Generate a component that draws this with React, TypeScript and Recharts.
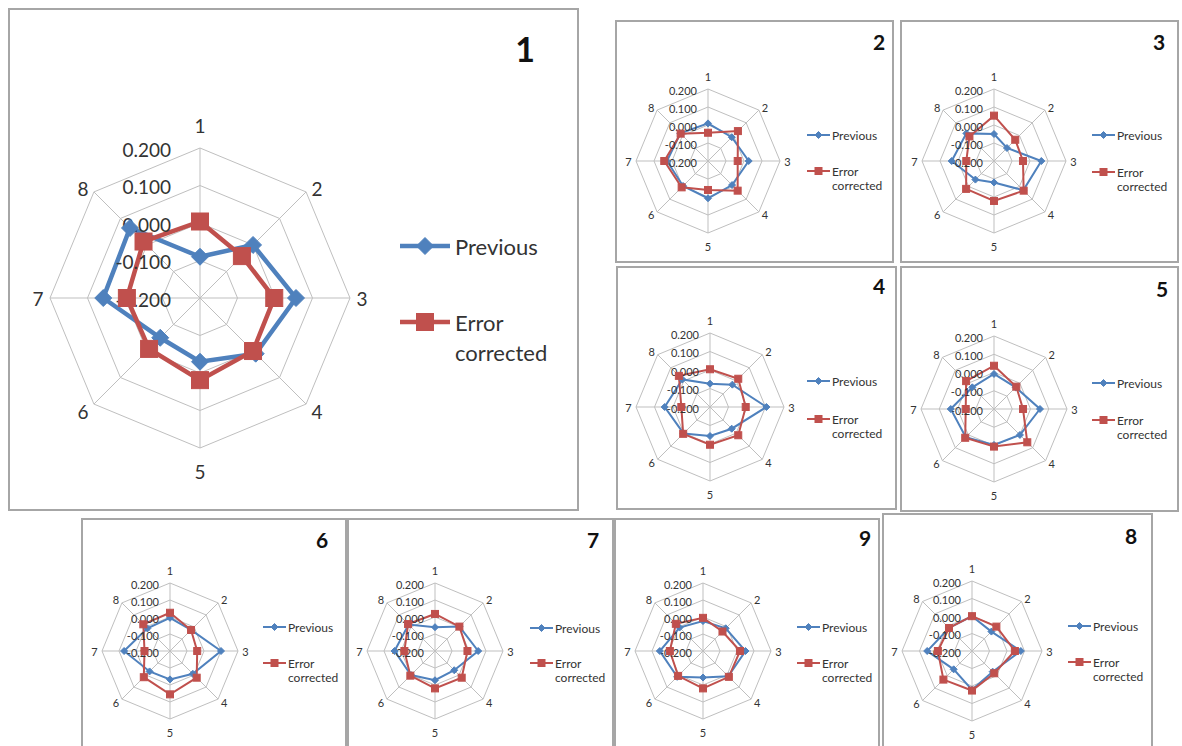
import { Legend, PolarAngleAxis, PolarGrid, PolarRadiusAxis, Radar, RadarChart } from "recharts";

const AXES = ["1", "2", "3", "4", "5", "6", "7", "8"];
const RING_DOMAIN = [-0.2, 0.2];
const RING_TICKS = [-0.2, -0.1, 0, 0.1, 0.2];

const PREV_1 = [-0.09, 0.0, 0.056, 0.01, -0.03, -0.05, 0.058, 0.064];
const CORR_1 = [0.004, -0.042, -0.002, 0.0, 0.019, -0.008, -0.005, 0.013];
const PREV_2 = [0.009, -0.013, 0.026, -0.011, 0.007, -0.004, 0.028, 0.017];
const CORR_2 = [-0.043, 0.035, -0.035, 0.033, -0.039, 0.007, 0.043, 0.015];
const PREV_3 = [-0.05, -0.098, 0.063, 0.03, -0.081, -0.054, 0.035, 0.017];
const CORR_3 = [0.052, -0.033, -0.039, 0.033, 0.022, 0.019, -0.046, -0.007];
const PREV_4 = [-0.074, -0.029, 0.105, -0.034, -0.043, 0.002, 0.045, 0.011];
const CORR_4 = [0.004, 0.016, -0.007, 0.016, 0.004, 0.005, -0.045, 0.038];
const PREV_5 = [-0.008, -0.032, 0.052, 0.001, -0.003, 0.019, 0.037, -0.032];
const CORR_5 = [0.037, -0.027, -0.041, 0.058, 0.006, 0.023, -0.045, 0.016];
const PREV_6 = [-0.005, -0.025, 0.1, -0.01, -0.033, -0.03, 0.07, -0.012];
const CORR_6 = [0.025, -0.025, -0.04, 0.022, 0.055, 0.018, -0.05, 0.022];
const PREV_7 = [-0.06, 0.003, 0.054, -0.04, -0.028, 0.0, 0.038, 0.02];
const CORR_7 = [0.018, 0.003, -0.009, 0.022, 0.02, 0.005, -0.02, 0.024];
const PREV_9 = [-0.024, -0.011, 0.05, 0.01, -0.044, 0.015, 0.054, -0.005];
const CORR_9 = [-0.005, -0.038, 0.018, 0.015, 0.02, 0.007, -0.005, 0.026];
const PREV_8 = [-0.001, -0.043, 0.079, -0.033, 0.022, -0.052, 0.056, -0.014];
const CORR_8 = [-0.001, -0.003, 0.045, -0.02, 0.026, 0.031, -0.005, -0.014];

const BLUE = "#4f81bd";
const RED = "#c0504d";
const GRID = "#bfbfbf";
const FONT = "Lato, 'Noto Sans', sans-serif";

const BIG = {
  axisFont: 19, tickFont: 19, tickDx: -29, legendFont: 22, titleFont: 34,
  line: 4.5, marker: 17, legendLine: 50, textGap: 5, lineGap: 30,
  side: 12, vert: 23, diagX: 11, diagUp: -3, diagDown: 7,
};
const SMALL = {
  axisFont: 11, tickFont: 11, tickDx: -11, legendFont: 12, titleFont: 21,
  line: 2, marker: 7, legendLine: 23, textGap: 2, lineGap: 14,
  side: 7.5, vert: 13, diagX: 6, diagUp: -3, diagDown: 3,
};

const PANELS = [
  { id: "1", prev: PREV_1, corr: CORR_1, x: 8, y: 8, w: 571, h: 503, cx: 192, cy: 290, r: 150, st: BIG, tx: 517, ty: 40, lx: 392, ly1: 238, ly2: 314 },
  { id: "2", prev: PREV_2, corr: CORR_2, x: 615, y: 20, w: 279, h: 243, cx: 93, cy: 141, r: 72, st: SMALL, tx: 264, ty: 21, lx: 192, ly1: 115, ly2: 151 },
  { id: "3", prev: PREV_3, corr: CORR_3, x: 900, y: 20, w: 279, h: 243, cx: 94, cy: 141, r: 72, st: SMALL, tx: 259, ty: 21, lx: 192, ly1: 115, ly2: 152 },
  { id: "4", prev: PREV_4, corr: CORR_4, x: 616, y: 266, w: 281, h: 244, cx: 94, cy: 141, r: 74, st: SMALL, tx: 263, ty: 19, lx: 191, ly1: 115, ly2: 153 },
  { id: "5", prev: PREV_5, corr: CORR_5, x: 900, y: 266, w: 279, h: 246, cx: 94, cy: 143, r: 73, st: SMALL, tx: 262, ty: 22, lx: 192, ly1: 117, ly2: 154 },
  { id: "6", prev: PREV_6, corr: CORR_6, x: 81, y: 518, w: 266, h: 240, cx: 89, cy: 133, r: 68, st: SMALL, tx: 241, ty: 21, lx: 182, ly1: 109, ly2: 145 },
  { id: "7", prev: PREV_7, corr: CORR_7, x: 347, y: 518, w: 267, h: 240, cx: 88, cy: 133, r: 68, st: SMALL, tx: 246, ty: 21, lx: 183, ly1: 110, ly2: 145 },
  { id: "9", prev: PREV_9, corr: CORR_9, x: 614, y: 518, w: 266, h: 240, cx: 89, cy: 133, r: 68, st: SMALL, tx: 251, ty: 19, lx: 183, ly1: 109, ly2: 145 },
  { id: "8", prev: PREV_8, corr: CORR_8, x: 882, y: 513, w: 271, h: 245, cx: 90, cy: 138, r: 70, st: SMALL, tx: 249, ty: 22, lx: 186, ly1: 113, ly2: 149 },
];

function diamond(cx: number, cy: number, s: number, key?: string) {
  const h = s / 2;
  return (
    <polygon
      key={key}
      points={`${cx},${cy - h} ${cx + h},${cy} ${cx},${cy + h} ${cx - h},${cy}`}
      fill={BLUE}
      stroke={BLUE}
      strokeWidth={1}
    />
  );
}

function square(cx: number, cy: number, s: number, key?: string) {
  return <rect key={key} x={cx - s / 2} y={cy - s / 2} width={s} height={s} fill={RED} stroke={RED} strokeWidth={1} />;
}

function Panel({ p }: { p: (typeof PANELS)[number] }) {
  const st = p.st;
  const data = AXES.map((a, i) => ({ axis: a, prev: p.prev[i], corr: p.corr[i] }));

  const angleTick = (props: any) => {
    const ang = (-(props.payload?.coordinate ?? 0) * Math.PI) / 180;
    const ux = Math.cos(ang);
    const uy = Math.sin(ang);
    let x = p.cx;
    let y = p.cy;
    if (Math.abs(ux) < 0.1) {
      y = p.cy + Math.sign(uy) * (p.r + st.vert);
    } else if (Math.abs(uy) < 0.1) {
      x = p.cx + Math.sign(ux) * (p.r + st.side);
    } else {
      x = p.cx + ux * p.r + Math.sign(ux) * st.diagX;
      y = p.cy + uy * p.r + (uy < 0 ? st.diagUp : st.diagDown);
    }
    return (
      <text x={x} y={y} textAnchor="middle" dominantBaseline="central" fontSize={st.axisFont} fontFamily={FONT} fill="#333">
        {props.payload?.value}
      </text>
    );
  };

  const radiusTick = (props: any) => (
    <text
      x={props.x + st.tickDx}
      y={props.y + 1}
      textAnchor="end"
      dominantBaseline="central"
      fontSize={st.tickFont}
      fontFamily={FONT}
      fill="#333"
    >
      {Number(props.payload?.value).toFixed(3)}
    </text>
  );

  const legendContent = () => (
    <div style={{ position: "relative", width: p.w - p.lx, height: p.h, fontFamily: FONT, fontSize: st.legendFont, color: "#333" }}>
      <svg style={{ position: "absolute", left: 0, top: p.ly1 - 12 }} width={st.legendLine} height={24}>
        <line x1={0} y1={12} x2={st.legendLine} y2={12} stroke={BLUE} strokeWidth={st.line} />
        {diamond(st.legendLine / 2, 12, st.marker)}
      </svg>
      <span style={{ position: "absolute", left: st.legendLine + st.textGap, top: p.ly1, transform: "translateY(-50%)", whiteSpace: "nowrap" }}>
        Previous
      </span>
      <svg style={{ position: "absolute", left: 0, top: p.ly2 - 12 }} width={st.legendLine} height={24}>
        <line x1={0} y1={12} x2={st.legendLine} y2={12} stroke={RED} strokeWidth={st.line} />
        {square(st.legendLine / 2, 12, st.marker)}
      </svg>
      <span style={{ position: "absolute", left: st.legendLine + st.textGap, top: p.ly2, transform: "translateY(-50%)", whiteSpace: "nowrap" }}>
        Error
      </span>
      <span
        style={{ position: "absolute", left: st.legendLine + st.textGap, top: p.ly2 + st.lineGap, transform: "translateY(-50%)", whiteSpace: "nowrap" }}
      >
        corrected
      </span>
    </div>
  );

  return (
    <div style={{ position: "absolute", left: p.x, top: p.y, width: p.w, height: p.h, background: "#fff" }}>
      <RadarChart
        width={p.w}
        height={p.h}
        data={data}
        cx={p.cx}
        cy={p.cy}
        outerRadius={p.r}
        margin={{ top: 0, right: 0, bottom: 0, left: 0 }}
      >
        <PolarGrid gridType="polygon" stroke={GRID} strokeWidth={1} />
        <PolarAngleAxis dataKey="axis" tick={angleTick} tickLine={false} axisLine={false} />
        <PolarRadiusAxis
          angle={90}
          type="number"
          scale="linear"
          domain={RING_DOMAIN}
          ticks={RING_TICKS}
          tickCount={5}
          allowDataOverflow
          tick={radiusTick}
          axisLine={false}
          tickLine={false}
        />
        <Radar
          name="Previous"
          dataKey="prev"
          stroke={BLUE}
          strokeWidth={st.line}
          fill="none"
          fillOpacity={0}
          isAnimationActive={false}
          dot={(d: any) => diamond(d.cx, d.cy, st.marker, `pd-${d.index}`)}
          activeDot={false}
        />
        <Radar
          name="Error corrected"
          dataKey="corr"
          stroke={RED}
          strokeWidth={st.line}
          fill="none"
          fillOpacity={0}
          isAnimationActive={false}
          dot={(d: any) => square(d.cx, d.cy, st.marker, `cd-${d.index}`)}
          activeDot={false}
        />
        <Legend
          layout="vertical"
          align="right"
          verticalAlign="top"
          wrapperStyle={{ left: p.lx, top: 0, width: p.w - p.lx, height: p.h }}
          content={legendContent}
        />
      </RadarChart>
      <div
        style={{
          position: "absolute",
          left: p.tx,
          top: p.ty,
          transform: "translate(-50%, -50%)",
          fontFamily: FONT,
          fontWeight: 700,
          fontSize: st.titleFont,
          color: "#111",
        }}
      >
        {p.id}
      </div>
      <div
        style={{
          position: "absolute",
          left: 0,
          top: 0,
          width: p.w,
          height: p.h,
          boxSizing: "border-box",
          border: "2px solid #a6a6a6",
          pointerEvents: "none",
        }}
      />
    </div>
  );
}

export default function App() {
  return (
    <div style={{ position: "absolute", left: 0, top: 0, width: 1182, height: 746, overflow: "hidden", background: "#fff" }}>
      {PANELS.map((p) => (
        <Panel key={p.id} p={p} />
      ))}
    </div>
  );
}
